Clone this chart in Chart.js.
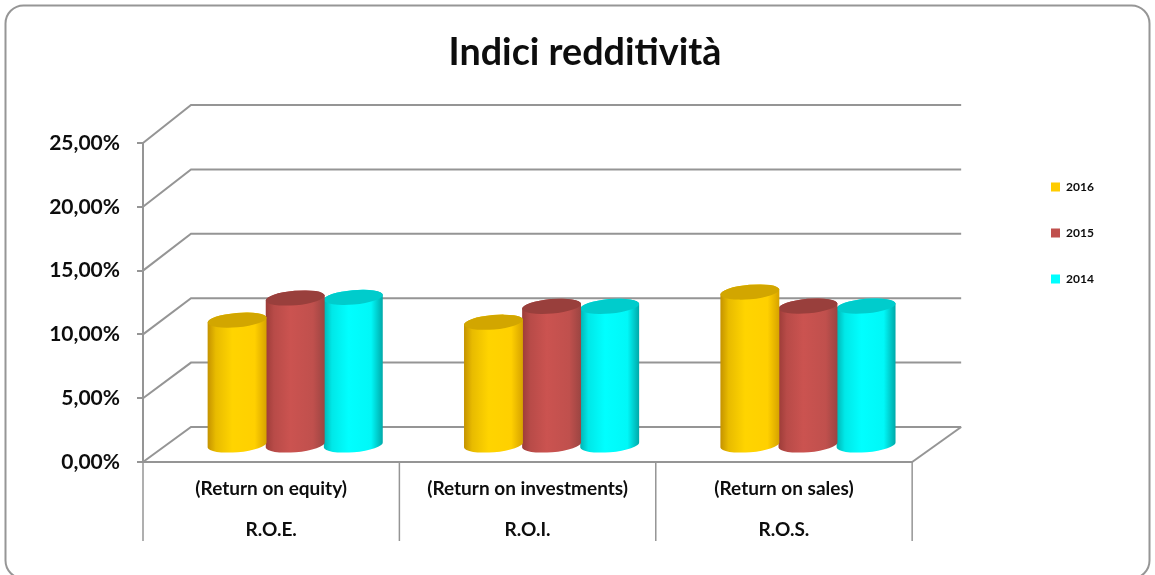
<!DOCTYPE html>
<html><head><meta charset="utf-8">
<style>html,body{margin:0;padding:0;background:#fff}canvas{display:block}</style>
<script src="https://cdn.jsdelivr.net/npm/chart.js@4/dist/chart.umd.js"></script>
</head><body><canvas id="c" width="1155" height="575"></canvas>
<script>
const titleText = "Indici redditività";
const categories = [["(Return on equity)","R.O.E."],["(Return on investments)","R.O.I."],["(Return on sales)","R.O.S."]];
const series2016 = [9.87, 9.7, 12.07];
const series2015 = [11.6, 10.95, 10.97];
const series2014 = [11.65, 10.95, 10.97];
const yTicks = [0,5,10,15,20,25];
const GRID = "#959595", INK = "#0d0d0d", FONT = "Lato";
const DEPTH_X = 48, DEPTH_Y = 35, BAR_DX = 24, BAR_DY = 16, TILT = -5*Math.PI/180, RY = 7.2;
const shades = {
  "2016": {stops:["#c49200","#e8bb00","#ffd400","#ffd000","#d6a200"], cap:"#d2a600"},
  "2015": {stops:["#9c3c38","#b84b48","#cb5350","#c0504d","#9a4542"], cap:"#993f3c"},
  "2014": {stops:["#00b4b4","#00e8e8","#00ffff","#00f8f8","#00a8a8"], cap:"#00cccc"}
};
const cylinder = {
  id:"cylinder",
  beforeDatasetsDraw(chart){
    const ctx = chart.ctx, y = chart.scales.y, a = chart.chartArea;
    const back = v => (a.bottom - DEPTH_Y) - (a.bottom - y.getPixelForValue(v))*1.0094;
    ctx.save();
    ctx.strokeStyle = GRID; ctx.lineWidth = 2;
    yTicks.forEach(v=>{
      const f = y.getPixelForValue(v), b = back(v);
      ctx.beginPath(); ctx.moveTo(a.left,f); ctx.lineTo(a.left+DEPTH_X,b); ctx.lineTo(a.right+DEPTH_X+1,b); ctx.stroke();
    });
    ctx.beginPath(); ctx.moveTo(a.right,a.bottom); ctx.lineTo(a.right+DEPTH_X+1,back(0)); ctx.stroke();
    ctx.lineWidth = 1.5;
    const w = (a.right-a.left)/categories.length;
    for(let i=0;i<=categories.length;i++){
      const px = a.left + i*w;
      ctx.beginPath(); ctx.moveTo(px,a.bottom); ctx.lineTo(px,a.bottom+79); ctx.stroke();
    }
    ctx.restore();
  },
  beforeDatasetDraw(chart,args){
    const ctx = chart.ctx, s = shades[chart.data.datasets[args.index].label];
    args.meta.data.forEach(bar=>{
      const cx = bar.x + BAR_DX, rx = bar.width/2 + 0.5, top = bar.y - BAR_DY, base = bar.base - BAR_DY;
      const g = ctx.createLinearGradient(cx-rx,0,cx+rx,0);
      s.stops.forEach((c,i)=>g.addColorStop([0,0.14,0.42,0.8,1][i],c));
      ctx.save();
      ctx.fillStyle = g;
      ctx.beginPath();
      ctx.ellipse(cx,top,rx,RY,TILT,Math.PI,0,false);
      ctx.ellipse(cx,base,rx,RY,TILT,0,Math.PI,false);
      ctx.closePath(); ctx.fill();
      ctx.fillStyle = s.cap;
      ctx.beginPath(); ctx.ellipse(cx,top,rx,RY,TILT,0,Math.PI*2); ctx.fill();
      ctx.restore();
    });
    return false;
  },
  afterLayout(chart){
    const l = chart.legend, p = l.options.labels.padding;
    l.left = 1051 - p; l.right = l.left + l.width;
    l.top = 181 - p; l.bottom = l.top + l.height;
    chart.titleBlock.left += 85.5; chart.titleBlock.right += 85.5;
  },
  beforeDraw(chart){
    const ctx = chart.ctx;
    ctx.save();
    ctx.fillStyle="#fff"; ctx.fillRect(0,0,1155,575);
    ctx.strokeStyle="#969696"; ctx.lineWidth=2;
    ctx.beginPath(); ctx.roundRect(5.5,5.5,1144,573,18); ctx.stroke();
    ctx.restore();
  }
};
new Chart(document.getElementById("c"),{
  type:"bar",
  data:{labels:categories,datasets:[
    {label:"2016",data:series2016,backgroundColor:"#ffcc00",borderWidth:0},
    {label:"2015",data:series2015,backgroundColor:"#c0504d",borderWidth:0},
    {label:"2014",data:series2014,backgroundColor:"#00ffff",borderWidth:0}
  ]},
  options:{
    responsive:false,animation:false,
    layout:{padding:{left:0,right:156,top:0,bottom:0}},
    categoryPercentage:0.68,barPercentage:1,
    plugins:{
      tooltip:{enabled:false},
      title:{display:true,text:titleText,color:INK,font:{family:FONT,size:37.7,weight:"bold"},padding:{top:30,bottom:67.8}},
      legend:{position:"right",align:"start",labels:{boxWidth:9,boxHeight:9,padding:34,color:INK,font:{family:FONT,size:12,weight:"bold"}}}
    },
    scales:{
      y:{min:0,max:25,
        afterFit(s){s.width=143;},
        afterBuildTicks(s){s.ticks=yTicks.map(v=>({value:v}));},
        ticks:{callback:v=>v.toFixed(2).replace(".",",")+"%",color:INK,padding:17,font:{family:FONT,size:21,weight:"bold"}},
        grid:{drawOnChartArea:false,drawTicks:true,tickLength:6,color:GRID,lineWidth:2},
        border:{color:GRID,width:2}
      },
      x:{
        afterFit(s){s.height=113;},
        ticks:{color:INK,padding:6.5,maxRotation:0,autoSkip:false,font:{family:FONT,size:19,weight:"bold",lineHeight:2.16}},
        grid:{drawOnChartArea:false,drawTicks:false},
        border:{color:GRID,width:2}
      }
    }
  },
  plugins:[cylinder]
});
</script></body></html>
